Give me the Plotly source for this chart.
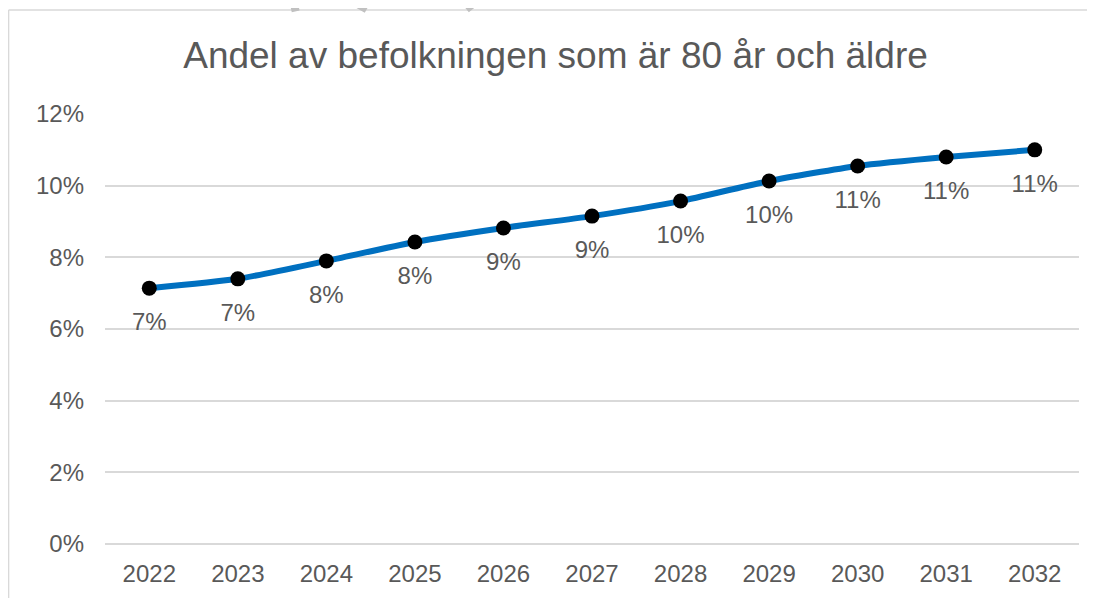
"""
Andel av befolkningen som är 80 år och äldre, 2022-2032
"""
import plotly.graph_objects as go

# data
years = ["2022", "2023", "2024", "2025", "2026", "2027",
         "2028", "2029", "2030", "2031", "2032"]
share_pct = [7.14, 7.40, 7.90, 8.43, 8.82, 9.15, 9.57, 10.13, 10.55, 10.80, 11.00]
y_ticks = [0, 2, 4, 6, 8, 10, 12]
y_tick_labels = [f"{v}%" for v in y_ticks]
point_labels = [f"{round(v)}%" for v in share_pct]

title_text = "Andel av befolkningen som är 80 år och äldre"
font_family = "Liberation Sans, Arial, sans-serif"
grey_text = "#595959"
grid_col = "#D9D9D9"

fig = go.Figure()

# dataetiketter under punkterna (osynlig stor markör ger avståndet)
fig.add_trace(go.Scatter(
    x=years, y=share_pct,
    mode="markers+text",
    marker=dict(size=37, opacity=0),
    text=point_labels, textposition="bottom center",
    textfont=dict(size=24, color=grey_text, family=font_family),
    showlegend=False, hoverinfo="skip",
))

# linjen (utjämnad som i Excel)
fig.add_trace(go.Scatter(
    x=years, y=share_pct,
    mode="lines+markers",
    line=dict(color="#0070C0", width=6, shape="spline", smoothing=0.6),
    marker=dict(color="black", size=15),
    showlegend=False,
    hoverinfo="x+y",
))

# ram runt diagrammet (bara vänster och överkant syns i utsnittet)
border = dict(color=grid_col, width=1.5)
fig.add_shape(type="line", xref="paper", yref="paper",
              x0=-0.099, x1=-0.099, y0=-0.2, y1=1.242, line=border)
fig.add_shape(type="line", xref="paper", yref="paper",
              x0=-0.099, x1=1.03, y0=1.242, y1=1.242, line=border)

# grå vattenstämpel som sticker upp ovanför ramen
wm = dict(color="#C0C0C0", width=11)
fig.add_shape(type="line", xref="paper", yref="paper",
              x0=0.2515, y0=1.27, x1=0.2695, y1=1.2465, line=wm)
fig.add_shape(type="line", xref="paper", yref="paper",
              x0=0.383, y0=1.27, x1=0.37, y1=1.2465, line=wm)
fig.add_shape(type="line", xref="paper", yref="paper",
              x0=0.191, y0=1.2445, x1=0.199, y1=1.2485,
              line=dict(color="#C0C0C0", width=7))

fig.update_xaxes(
    type="category",
    range=[-0.5, len(years) - 0.5],
    showgrid=False, showline=False, zeroline=False,
    ticks="", ticklabelstandoff=13,
    tickfont=dict(size=24, color=grey_text, family=font_family),
)
fig.update_yaxes(
    range=[0, 12],
    tickmode="array", tickvals=y_ticks, ticktext=y_tick_labels,
    showgrid=True, gridcolor=grid_col, gridwidth=1.5,
    zeroline=True, zerolinecolor=grid_col, zerolinewidth=1.5,
    showline=False, ticks="", ticklabelstandoff=20,
    tickfont=dict(size=24, color=grey_text, family=font_family),
)

fig.update_layout(
    width=1095, height=598,
    paper_bgcolor="white", plot_bgcolor="white",
    margin=dict(l=97, r=24, t=106, b=62),
    title=dict(text=title_text, x=0.5, xanchor="center",
               y=0.921, yanchor="middle",
               font=dict(size=37, color=grey_text, family=font_family)),
    showlegend=False,
)

fig.write_html("out.html")
